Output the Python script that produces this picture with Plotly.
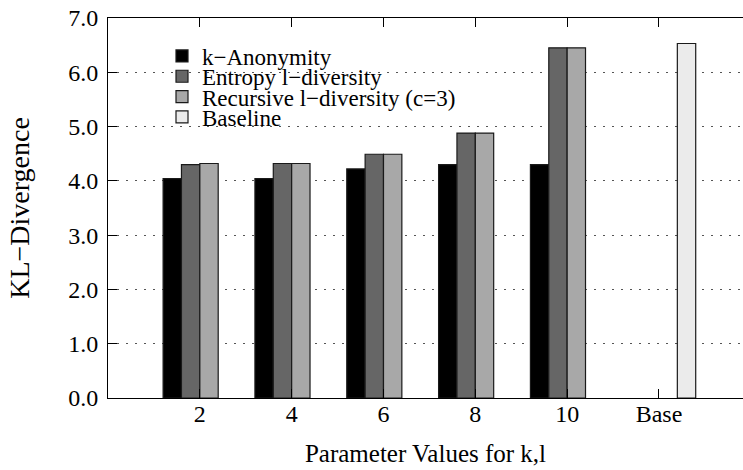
import plotly.graph_objects as go

categories = ["2", "4", "6", "8", "10", "Base"]
k_anonymity = [4.04, 4.04, 4.22, 4.30, 4.30, None]
entropy_ldiv = [4.30, 4.32, 4.49, 4.88, 6.45, None]
recursive_ldiv = [4.32, 4.32, 4.49, 4.88, 6.45, None]
baseline = [None, None, None, None, None, 6.53]

series_names = ["k\u2212Anonymity", "Entropy l\u2212diversity",
                "Recursive l\u2212diversity (c=3)", "Baseline"]
series_values = [k_anonymity, entropy_ldiv, recursive_ldiv, baseline]
series_colors = ["#000000", "#666666", "#a8a8a8", "#ebebeb"]
legend_ids = ["legend", "legend2", "legend3", "legend4"]

FONT = "Liberation Serif"
W, H = 743, 470
L, R, T, B = 108, 0, 18, 72
plot_h = H - T - B

fig = go.Figure()
for name, vals, col, lg in zip(series_names, series_values, series_colors, legend_ids):
    fig.add_trace(go.Bar(
        x=categories, y=vals, name=name, legend=lg, showlegend=True,
        marker=dict(color=col, line=dict(color="#1a1a1a", width=1.2)),
    ))

legend_common = dict(
    bgcolor="rgba(0,0,0,0)", borderwidth=0, visible=True,
    font=dict(family=FONT, size=23, color="black"),
    xanchor="left", yanchor="middle", itemclick=False, itemdoubleclick=False,
    tracegroupgap=0,
)
legend_y_px = [56, 76.3, 96.6, 117]
layout_legends = {}
for lg, ypx in zip(legend_ids, legend_y_px):
    layout_legends[lg] = dict(legend_common, x=(162 - L) / (W - L - R),
                              y=(H - B - ypx) / plot_h)

fig.update_layout(
    width=W, height=H, showlegend=True,
    margin=dict(l=L, r=R, t=T, b=B, autoexpand=False),
    paper_bgcolor="white", plot_bgcolor="white",
    barmode="group", bargap=0.2, bargroupgap=0,
    font=dict(family=FONT, size=24, color="black"),
    **layout_legends,
    xaxis=dict(
        type="category", range=[-1.0, 5.915],
        showline=True, linecolor="black", linewidth=1, mirror="ticks",
        ticks="inside", ticklen=9, tickcolor="black", tickwidth=1,
        showgrid=False, automargin=False, ticklabelstandoff=-6,
        tickfont=dict(family=FONT, size=24, color="black"),
        title=dict(text="Parameter Values for k,l", standoff=18,
                   font=dict(family=FONT, size=25, color="black")),
    ),
    yaxis=dict(
        range=[0, 7], dtick=1, tickformat=".1f",
        showline=True, linecolor="black", linewidth=1,
        ticks="inside", ticklen=9, tickcolor="black", tickwidth=1,
        showgrid=True, gridcolor="#555555", gridwidth=1, griddash="2px,7px",
        zeroline=False, automargin=False, ticklabelstandoff=4,
        tickfont=dict(family=FONT, size=24, color="black"),
        title=dict(text="KL\u2212Divergence", standoff=30,
                   font=dict(family=FONT, size=28, color="black")),
    ),
)

fig.write_html("out.html", config={"displayModeBar": False},
               post_script="document.body.style.margin='0px';document.body.style.overflow='hidden';")
